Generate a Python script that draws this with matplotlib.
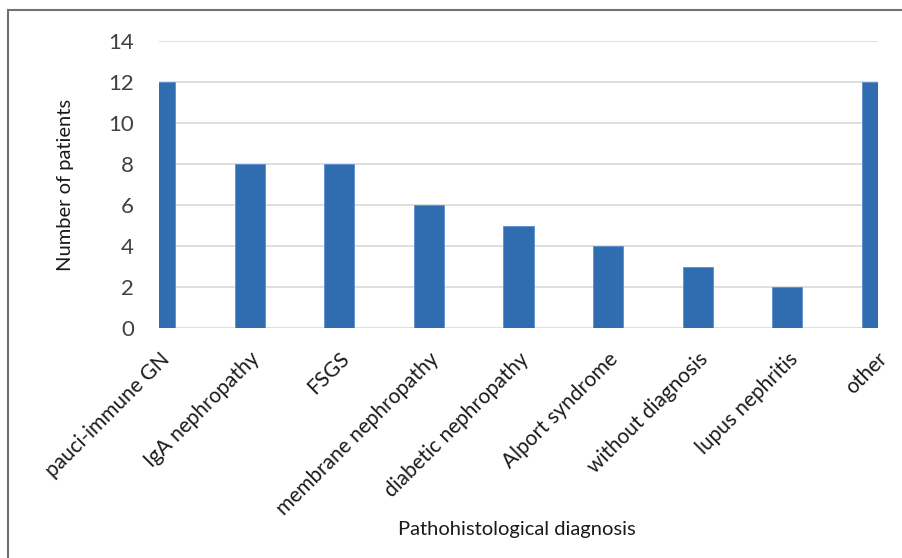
import matplotlib
matplotlib.use("Agg")
import matplotlib.pyplot as plt
from matplotlib.patches import Rectangle
from matplotlib.transforms import ScaledTranslation

categories = ["pauci-immune GN", "IgA nephropathy", "FSGS", "membrane nephropathy",
              "diabetic nephropathy", "Alport syndrome", "without diagnosis",
              "lupus nephritis", "other"]
patients = [12, 8, 8, 6, 5, 4, 3, 2, 12]
y_ticks = [0, 2, 4, 6, 8, 10, 12, 14]

plt.rcParams['font.family'] = ['Lato', 'DejaVu Sans']

W, H = 902, 558
fig = plt.figure(figsize=(W / 100, H / 100), dpi=100)
ax = fig.add_axes([159 / W, 1 - 328 / H, (878 - 159) / W, (328 - 41) / H])

x = list(range(len(categories)))
ax.bar(x, patients, width=0.335, color="#2F6CB0", edgecolor="#5B8FD0",
       linewidth=0.6, zorder=3)

ax.set_xlim(-0.01, len(categories) - 1 + 0.01)
ax.set_ylim(0, 14)
ax.set_yticks(y_ticks)
ax.set_yticklabels([str(v) for v in y_ticks], fontsize=16, color="#404040")
ax.grid(axis="y", color="#D9D9D9", linewidth=1.2, zorder=0)
ax.set_xticks(x)
ax.set_xticklabels(categories, rotation=45, ha="right", rotation_mode="anchor",
                   fontsize=15, color="#1a1a1a")
shift = ScaledTranslation(-5 / 100, 0, fig.dpi_scale_trans)
for lbl in ax.get_xticklabels():
    lbl.set_transform(lbl.get_transform() + shift)
ax.tick_params(axis="both", length=0)
ax.tick_params(axis="y", pad=18)
ax.tick_params(axis="x", pad=15)
for s in ax.spines.values():
    s.set_visible(False)

fig.text(65 / W, 1 - 185 / H, "Number of patients", rotation=90,
         ha="center", va="center", fontsize=14.5, color="#1a1a1a")
fig.text(517 / W, 1 - 530 / H, "Pathohistological diagnosis",
         ha="center", va="center", fontsize=14.5, color="#1a1a1a")

# outer chart frame
fig.patches.append(Rectangle((8 / W, -0.1), 1.2, 1 - 10 / H + 0.1,
                             transform=fig.transFigure, fill=False,
                             edgecolor="#707070", linewidth=1.5))

fig.savefig("out.png", dpi=100)
